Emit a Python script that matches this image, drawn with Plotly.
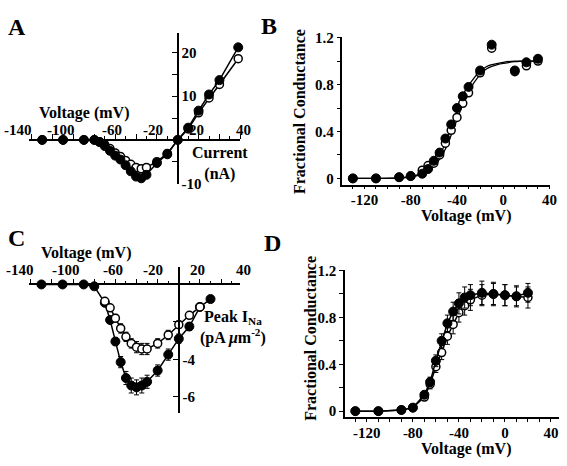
import plotly.graph_objects as go

W, H = 567, 466
FONT = "Liberation Serif"


def fx(px):
    return px / W


def fy(py):
    return 1 - py / H


# ---------------- data ----------------
# Panel A: whole-cell current (nA) vs voltage (mV)
a_voltage = [-130, -110, -90, -80, -75, -70, -65, -60, -55, -50, -45, -40, -35, -30, -20, -10, 0, 10, 20, 30, 40, 58]
a_closed = [0, 0, 0, 0, -0.5, -1.4, -2.5, -3.6, -4.5, -5.8, -7.2, -8.4, -8.8, -8.0, -5.3, -3.3, 0, 2.8, 6.7, 10.4, 13.7, 21.2]
a_open = [0, 0, 0, 0, -0.4, -1.1, -2.0, -3.0, -3.8, -4.7, -5.6, -6.3, -6.6, -6.3, -5.0, -3.1, 0, 2.5, 6.2, 9.6, 12.7, 18.6]
a_xtick_pos = [-153, -112, -63, -24, 18, 63]
a_xtick_text = ["-140", "-100", "-60", "-20", "20", "40"]
a_ytick_vals = [-10, 10, 20]
a_ytick_text = ["-10", "10", "20"]

# Panel B: fractional conductance vs voltage
b_voltage = [-130, -110, -90, -80, -70, -65, -60, -55, -50, -45, -40, -35, -30, -20, -10, 10, 20, 30]
b_closed = [0, 0, 0.01, 0.02, 0.04, 0.08, 0.15, 0.22, 0.34, 0.46, 0.60, 0.70, 0.78, 0.92, 1.14, 0.92, 0.99, 1.02]
b_open = [0, 0, 0.01, 0.02, 0.07, 0.11, 0.13, 0.20, 0.30, 0.41, 0.52, 0.64, 0.73, 0.90, 1.11, 0.91, 0.96, 1.00]
b_fit_voltage = [-130, -110, -90, -80, -75, -70, -65, -60, -55, -50, -45, -40, -35, -30, -25, -20, -15, -10, -5, 0, 10, 20, 30]
b_fit_closed = [0, 0, 0.005, 0.015, 0.028, 0.048, 0.08, 0.13, 0.2, 0.3, 0.43, 0.57, 0.69, 0.79, 0.86, 0.915, 0.95, 0.97, 0.98, 0.99, 1.0, 1.0, 1.0]
b_fit_open = [0, 0, 0.004, 0.012, 0.022, 0.038, 0.065, 0.105, 0.165, 0.25, 0.37, 0.5, 0.63, 0.74, 0.82, 0.885, 0.93, 0.955, 0.97, 0.98, 0.995, 1.0, 1.0]

# Panel C: peak I_Na density (pA um^-2) vs voltage, mean +/- SEM
c_voltage_closed = [-130, -110, -90, -80, -70, -65, -60, -55, -50, -45, -40, -35, -30, -20, -10, 0, 10, 20, 30]
c_closed = [0, 0, 0, -0.1, -0.98, -1.9, -3.05, -4.15, -5.0, -5.4, -5.5, -5.4, -5.2, -4.6, -3.75, -2.9, -2.25, -1.2, -0.78]
c_closed_err = [0, 0, 0, 0, 0.1, 0.15, 0.2, 0.3, 0.35, 0.4, 0.4, 0.4, 0.35, 0.3, 0.3, 0.25, 0.2, 0.15, 0.1]
c_voltage_open = [-70, -65, -60, -55, -50, -45, -40, -35, -30, -20, -10, 0, 10, 20]
c_open = [-0.9, -1.25, -1.8, -2.35, -2.8, -3.15, -3.35, -3.45, -3.45, -3.15, -2.7, -2.15, -1.65, -1.2]
c_open_err = [0.1, 0.15, 0.2, 0.25, 0.25, 0.25, 0.3, 0.3, 0.3, 0.25, 0.25, 0.2, 0.15, 0.1]
c_xtick_pos = [-150, -107, -62, -24, 18, 61]
c_xtick_text = ["-140", "-100", "-60", "-20", "20", "40"]
c_ytick_vals = [-6, -4]
c_ytick_text = ["-6", "-4"]

# Panel D: fractional conductance vs voltage, mean +/- SEM
d_voltage = [-130, -110, -90, -80, -70, -65, -60, -55, -50, -45, -40, -35, -30, -20, -10, 0, 10, 20]
d_closed = [0, 0, 0.01, 0.03, 0.14, 0.25, 0.43, 0.60, 0.75, 0.85, 0.92, 0.97, 0.99, 1.01, 1.0, 0.99, 0.98, 1.01]
d_closed_err = [0, 0, 0.01, 0.02, 0.03, 0.04, 0.05, 0.06, 0.07, 0.08, 0.09, 0.09, 0.09, 0.1, 0.1, 0.09, 0.08, 0.08]
d_open = [0, 0, 0.01, 0.03, 0.12, 0.23, 0.38, 0.50, 0.64, 0.74, 0.84, 0.90, 0.95, 0.99, 1.0, 0.99, 0.98, 0.97]
d_open_err = [0, 0, 0.01, 0.02, 0.03, 0.04, 0.05, 0.06, 0.07, 0.08, 0.08, 0.08, 0.09, 0.09, 0.09, 0.09, 0.09, 0.09]

cond_tick_vals = [0, 0.4, 0.8, 1.2]
cond_tick_text = ["0", "0.4", "0.8", "1.2"]
volt_tick_vals = [-120, -80, -40, 0, 40]
volt_tick_text = ["-120", "-80", "-40", "0", "40"]

# ---------------- axis geometry (pixels) ----------------
A_X = dict(range=[-143, 60], px=[29, 243.3])
C_X = dict(range=[-142, 58], px=[29.1, 243.1])


def to_px(ax, v):
    r0, r1 = ax["range"]
    p0, p1 = ax["px"]
    return p0 + (v - r0) / (r1 - r0) * (p1 - p0)


# ---------------- figure ----------------
fig = go.Figure()

FILLED = dict(size=9, color="black", line=dict(color="black", width=1))
OPEN = dict(size=8, color="white", line=dict(color="black", width=1.5))
LINE = dict(color="black", width=1.5)


def err(arr):
    return dict(type="data", array=arr, color="black", thickness=1, width=2.5)


# A
fig.add_trace(go.Scatter(x=a_voltage, y=a_open, mode="lines+markers", marker=OPEN, line=LINE,
                         xaxis="x", yaxis="y", cliponaxis=False))
fig.add_trace(go.Scatter(x=a_voltage, y=a_closed, mode="lines+markers", marker=FILLED, line=LINE,
                         xaxis="x", yaxis="y", cliponaxis=False))
# B
fig.add_trace(go.Scatter(x=b_fit_voltage, y=b_fit_open, mode="lines", line=dict(color="black", width=1.3, shape="spline"),
                         xaxis="x2", yaxis="y2"))
fig.add_trace(go.Scatter(x=b_fit_voltage, y=b_fit_closed, mode="lines", line=dict(color="black", width=1.3, shape="spline"),
                         xaxis="x2", yaxis="y2"))
fig.add_trace(go.Scatter(x=b_voltage, y=b_open, mode="markers", marker=OPEN,
                         xaxis="x2", yaxis="y2", cliponaxis=False))
fig.add_trace(go.Scatter(x=b_voltage, y=b_closed, mode="markers", marker=FILLED,
                         xaxis="x2", yaxis="y2", cliponaxis=False))
# C
fig.add_trace(go.Scatter(x=c_voltage_closed, y=c_closed, mode="lines+markers", marker=FILLED, line=LINE,
                         error_y=err(c_closed_err), xaxis="x3", yaxis="y3", cliponaxis=False))
fig.add_trace(go.Scatter(x=c_voltage_open, y=c_open, mode="lines+markers", marker=OPEN, line=LINE,
                         error_y=err(c_open_err), xaxis="x3", yaxis="y3", cliponaxis=False))
# D
fig.add_trace(go.Scatter(x=d_voltage, y=d_open, mode="lines+markers", marker=OPEN, line=LINE,
                         error_y=err(d_open_err), xaxis="x4", yaxis="y4", cliponaxis=False))
fig.add_trace(go.Scatter(x=d_voltage, y=d_closed, mode="lines+markers", marker=FILLED, line=LINE,
                         error_y=err(d_closed_err), xaxis="x4", yaxis="y4", cliponaxis=False))

AX = dict(showline=True, linecolor="black", linewidth=1.5, zeroline=False, showgrid=False,
          tickcolor="black", tickwidth=1.3, fixedrange=True)
TICKFONT = dict(family=FONT, size=15, color="black", weight="bold")
MINOR_X = dict(dtick=10, tick0=0, ticks="outside", ticklen=3, tickcolor="black", tickwidth=1.2)

fig.update_layout(
    width=W, height=H, margin=dict(l=0, r=0, t=0, b=0),
    paper_bgcolor="white", plot_bgcolor="rgba(0,0,0,0)", showlegend=False,
    font=dict(family=FONT, color="black"),
    # Panel A
    xaxis=dict(AX, domain=[fx(A_X["px"][0]), fx(A_X["px"][1])], range=A_X["range"], anchor="free",
               position=fy(137), side="top", tickmode="linear", tick0=0, dtick=20, ticks="outside",
               ticklen=5, showticklabels=False, minor=MINOR_X),
    yaxis=dict(AX, domain=[fy(182.9), fy(26.3)], range=[-10.2, 24.6], anchor="free", position=fx(180),
               side="right", tickmode="array", tickvals=a_ytick_vals, ticktext=a_ytick_text,
               ticks="inside", ticklen=5, tickfont=TICKFONT,
               minor=dict(dtick=5, tick0=0, ticks="inside", ticklen=5, tickcolor="black", tickwidth=1.3)),
    # Panel B
    xaxis2=dict(AX, domain=[fx(346.7), fx(557)], range=[-139, 40.5], anchor="y2",
                tickmode="array", tickvals=volt_tick_vals, ticktext=volt_tick_text,
                ticks="outside", ticklen=3, tickfont=TICKFONT, ticklabelstandoff=-2, minor=MINOR_X),
    yaxis2=dict(AX, domain=[fy(183), fy(31)], range=[-0.052, 1.205], anchor="x2",
                tickmode="array", tickvals=cond_tick_vals, ticktext=cond_tick_text,
                ticks="outside", ticklen=4, tickfont=TICKFONT,
                minor=dict(dtick=0.2, tick0=0, ticks="outside", ticklen=4, tickcolor="black", tickwidth=1.3)),
    # Panel C
    xaxis3=dict(AX, domain=[fx(C_X["px"][0]), fx(C_X["px"][1])], range=C_X["range"], anchor="free",
                position=fy(286), side="top", tickmode="linear", tick0=0, dtick=20, ticks="outside",
                ticklen=5, showticklabels=False, minor=MINOR_X),
    yaxis3=dict(AX, domain=[fy(418.2), fy(267.7)], range=[-6.85, 0.95], anchor="free", position=fx(181),
                side="right", tickmode="array", tickvals=c_ytick_vals, ticktext=c_ytick_text,
                ticks="inside", ticklen=5, tickfont=TICKFONT,
                minor=dict(dtick=2, tick0=0, ticks="inside", ticklen=5, tickcolor="black", tickwidth=1.3)),
    # Panel D
    xaxis4=dict(AX, domain=[fx(349.3), fx(566)], range=[-139, 47], anchor="y4",
                tickmode="array", tickvals=volt_tick_vals, ticktext=volt_tick_text,
                ticks="outside", ticklen=3, tickfont=TICKFONT, ticklabelstandoff=-2, minor=MINOR_X),
    yaxis4=dict(AX, domain=[fy(422.7), fy(271)], range=[-0.05, 1.206], anchor="x4",
                tickmode="array", tickvals=cond_tick_vals, ticktext=cond_tick_text,
                ticks="outside", ticklen=4, tickfont=TICKFONT,
                minor=dict(dtick=0.2, tick0=0, ticks="outside", ticklen=4, tickcolor="black", tickwidth=1.3)),
)

ann = []


def text(s, px, py, size=16, **kw):
    ann.append(dict(text=s, x=fx(px), y=fy(py), xref="paper", yref="paper", showarrow=False,
                    xanchor="center", yanchor="middle",
                    font=dict(family=FONT, size=size, color="black", weight="bold"), **kw))


# tick labels of the crossing axes in A and C (placed through the axis scale)
for v, t in zip(a_xtick_pos, a_xtick_text):
    text(t, to_px(A_X, v), 127, size=15)
for v, t in zip(c_xtick_pos, c_xtick_text):
    text(t, to_px(C_X, v), 271, size=15)

# panel letters
text("A", 17, 21, size=24)
text("B", 272, 20, size=24)
text("C", 17, 238, size=24)
text("D", 276, 243, size=24)

# axis titles
text("Voltage (mV)", 86, 109)
text("Current<br>(nA)", 223, 161, align="center")
text("Fractional Conductance", 303, 108, textangle=-90)
text("Voltage (mV)", 472, 215)
text("Voltage (mV)", 88, 254)
text("Peak I<sub>Na</sub><br>(pA <i>μ</i>m<sup>-2</sup>)", 236, 330, align="center")
text("Fractional Conductance", 315, 342, textangle=-90)
text("Voltage (mV)", 472, 456)

fig.update_layout(annotations=ann)

fig.write_html("out.html")
